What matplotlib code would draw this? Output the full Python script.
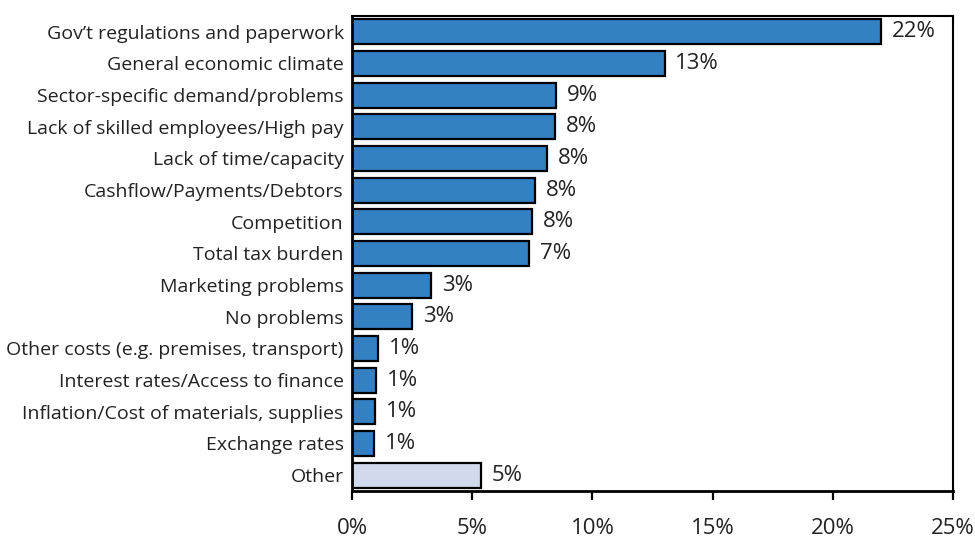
import matplotlib.pyplot as plt

# categories, top to bottom
categories = [
    "Gov\u2019t regulations and paperwork",
    "General economic climate",
    "Sector-specific demand/problems",
    "Lack of skilled employees/High pay",
    "Lack of time/capacity",
    "Cashflow/Payments/Debtors",
    "Competition",
    "Total tax burden",
    "Marketing problems",
    "No problems",
    "Other costs (e.g. premises, transport)",
    "Interest rates/Access to finance",
    "Inflation/Cost of materials, supplies",
    "Exchange rates",
    "Other",
]
values = [22.0, 13.0, 8.5, 8.45, 8.1, 7.6, 7.5, 7.35, 3.3, 2.5, 1.1, 1.0, 0.97, 0.9, 5.35]
value_labels = ["22%", "13%", "9%", "8%", "8%", "8%", "8%", "7%", "3%", "3%",
                "1%", "1%", "1%", "1%", "5%"]
x_ticks = [0, 5, 10, 15, 20, 25]

plt.rcParams['font.family'] = ['Open Sans', 'DejaVu Sans']

fig = plt.figure(figsize=(9.75, 5.4), dpi=100)
ax = fig.add_axes([352 / 975, 1 - 491 / 540, (953 - 352) / 975, (491 - 16) / 540])

colors = ["#3381C2"] * (len(categories) - 1) + ["#D1DAEC"]
ypos = list(range(len(categories)))
ax.barh(ypos, values, height=0.78, color=colors, edgecolor="black", linewidth=1.6)

for y, v, lab in zip(ypos, values, value_labels):
    ax.text(v + 0.45, y, lab, va="center", ha="left", fontsize=16, color="#222222")

ax.set_yticks(ypos)
ax.set_yticklabels(categories, fontsize=14, color="#222222")
ax.tick_params(axis="y", length=0, pad=6)
ax.set_ylim(len(categories) - 0.5, -0.5)

ax.set_xlim(0, 25)
ax.set_xticks(x_ticks)
ax.set_xticklabels([f"{t}%" for t in x_ticks], fontsize=16, color="#222222")
ax.tick_params(axis="x", direction="out", length=6.5, width=1.6, pad=13)

for side in ["left", "bottom"]:
    ax.spines[side].set_linewidth(2)
for side in ["top", "right"]:
    ax.spines[side].set_linewidth(1.5)

fig.savefig("out.png", dpi=100)
